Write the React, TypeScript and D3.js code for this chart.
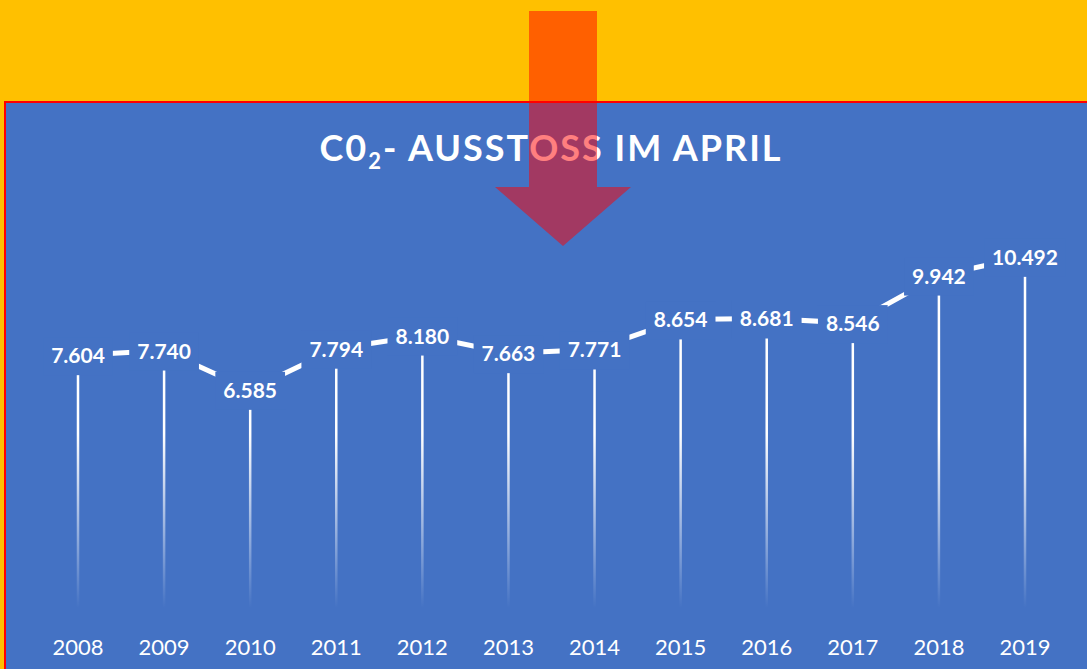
import React, { useEffect, useRef } from "react";
import * as d3 from "d3";

const years = ["2008","2009","2010","2011","2012","2013","2014","2015","2016","2017","2018","2019"];
const values = [7.604, 7.74, 6.585, 7.794, 8.18, 7.663, 7.771, 8.654, 8.681, 8.546, 9.942, 10.492];
const valueLabels = ["7.604","7.740","6.585","7.794","8.180","7.663","7.771","8.654","8.681","8.546","9.942","10.492"];

const W = 1087, H = 669;
const BLUE = "#4472C4";

export default function App() {
  const ref = useRef<SVGSVGElement>(null);
  useEffect(() => {
    const svg = d3.select(ref.current);
    svg.selectAll("*").remove();
    const x = d3.scalePoint<string>().domain(years).range([78, 1025]);
    const y = d3.scaleLinear().domain([0, 11]).range([614, 614 - 34.04 * 11]);
    const font = "Lato, 'Open Sans', sans-serif";

    const defs = svg.append("defs");
    const g = defs.append("linearGradient").attr("id", "drop").attr("gradientUnits", "userSpaceOnUse")
      .attr("x1", 0).attr("x2", 0).attr("y1", 260).attr("y2", 608);
    g.append("stop").attr("offset", 0).attr("stop-color", "#fff").attr("stop-opacity", 1);
    g.append("stop").attr("offset", 0.5).attr("stop-color", "#fff").attr("stop-opacity", 1);
    g.append("stop").attr("offset", 1).attr("stop-color", "#fff").attr("stop-opacity", 0);

    svg.append("rect").attr("width", W).attr("height", H).attr("fill", "#FFC000");
    svg.append("rect").attr("x", 5).attr("y", 102).attr("width", W + 10).attr("height", H)
      .attr("fill", BLUE).attr("stroke", "#FF0000").attr("stroke-width", 2);

    // title
    const t = svg.append("text").attr("x", 551).attr("y", 161).attr("text-anchor", "middle")
      .attr("fill", "#fff").attr("font-family", font).attr("font-weight", 700)
      .attr("font-size", 36).attr("letter-spacing", 2);
    t.append("tspan").text("C0");
    t.append("tspan").attr("font-size", 22).attr("dy", 8).text("2");
    t.append("tspan").attr("dy", -8).text("- AUSSTOSS IM APRIL");

    // drop lines
    svg.append("g").selectAll("line").data(values).join("line")
      .attr("x1", (d, i) => x(years[i])!).attr("x2", (d, i) => x(years[i])!)
      .attr("y1", d => y(d)).attr("y2", 610)
      .attr("stroke", "url(#drop)").attr("stroke-width", 2.5);

    // line
    const line = d3.line<number>().x((d, i) => x(years[i])!).y(d => y(d));
    svg.append("path").attr("d", line(values)!).attr("fill", "none")
      .attr("stroke", "#fff").attr("stroke-width", 5);

    // value labels
    const lg = svg.append("g");
    values.forEach((v, i) => {
      const cx = x(years[i])!, cy = y(v);
      const grp = lg.append("g");
      const rect = grp.append("rect").attr("fill", BLUE);
      const tx = grp.append("text").attr("x", cx).attr("y", cy + 8).attr("text-anchor", "middle")
        .attr("fill", "#fff").attr("font-family", font).attr("font-weight", 700).attr("font-size", 21)
        .text(valueLabels[i]);
      const bb = (tx.node() as SVGTextElement).getBBox();
      rect.attr("x", bb.x - 8).attr("y", cy - 18).attr("width", bb.width + 16).attr("height", 38);
    });

    // year labels
    svg.append("g").selectAll("text").data(years).join("text")
      .attr("x", d => x(d)!).attr("y", 655).attr("text-anchor", "middle")
      .attr("fill", "#fff").attr("font-family", font).attr("font-size", 22).text(d => d);

    // arrow
    const ap = d3.path();
    ap.moveTo(529, 11); ap.lineTo(597, 11); ap.lineTo(597, 187); ap.lineTo(631, 187);
    ap.lineTo(563, 246); ap.lineTo(495, 187); ap.lineTo(529, 187); ap.closePath();
    svg.append("path").attr("d", ap.toString()).attr("fill", "rgba(255,0,0,0.5)");
  }, []);
  return <svg ref={ref} width={W} height={H} style={{ position: "absolute", left: 0, top: 0, display: "block" }} />;
}
